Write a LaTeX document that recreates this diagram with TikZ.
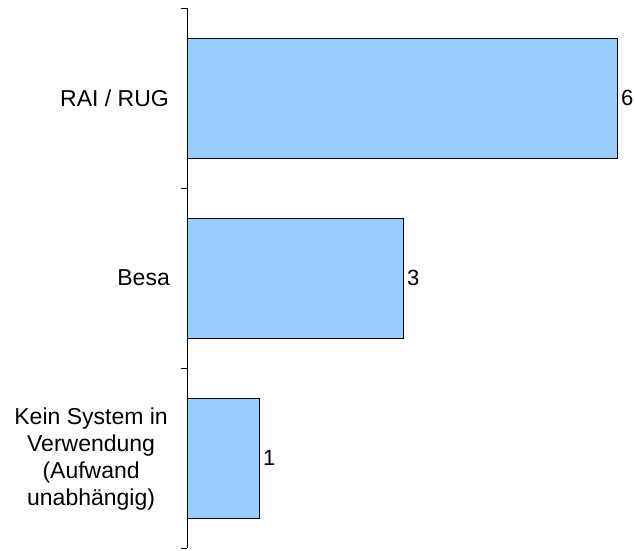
\documentclass[tikz,border=0pt]{standalone}
\usepackage{fontspec}
\setmainfont{Liberation Sans}
\definecolor{barblue}{HTML}{99CCFF}
\begin{document}
\begin{tikzpicture}[x=1pt,y=-1pt,
  bar/.style={draw=black,line width=1pt,fill=barblue},
  cat/.style={anchor=east,align=center,font=\fontsize{23}{26.7}\selectfont,inner sep=0pt},
  val/.style={anchor=west,font=\fontsize{22}{25}\selectfont,inner sep=0pt},
  axisline/.style={draw=black,line width=1pt}]
\useasboundingbox (0,0) rectangle (635,550);
% bars
\draw[bar] (187,38) rectangle (617,158);
\draw[bar] (187,218) rectangle (403,338);
\draw[bar] (187,398) rectangle (259,518);
% axis
\coordinate (atop) at (187,8);
\coordinate (abot) at (187,548);
\draw[axisline] (atop) -- (abot);
\foreach \y in {8,188,368,548}{
  \draw[axisline] (181,\y) -- (187,\y);
}
% values
\node[val] (v1) at (621,98) {6};
\node[val] (v2) at (407,278) {3};
\node[val] (v3) at (263,458) {1};
% categories
\node[cat] (c1) at (169,98) {RAI / RUG};
\node[cat] (c2) at (170,278) {Besa};
\node[cat] (c3) at (168,459) {Kein System in\\Verwendung\\(Aufwand\\unabhängig)};
\end{tikzpicture}
\end{document}
